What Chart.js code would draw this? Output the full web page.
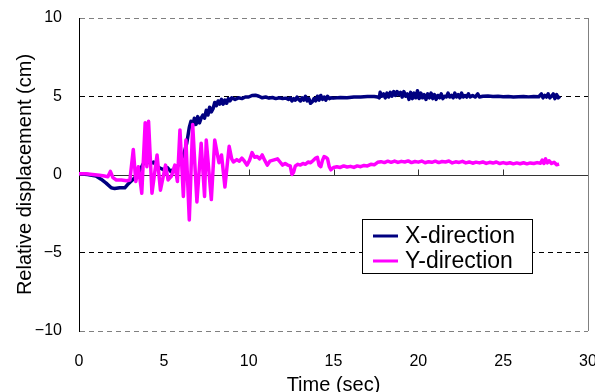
<!DOCTYPE html>
<html><head><meta charset="utf-8">
<script src="https://cdn.jsdelivr.net/npm/chart.js@4/dist/chart.umd.min.js"></script>
<style>html,body{margin:0;padding:0;background:#fff}canvas{display:block}</style>
</head><body>
<canvas id="c" width="595" height="392"></canvas>
<script>
// ---- data ----
const xTime = [0,0.5,1.0,1.3,1.6,1.9,2.1,2.4,2.7,2.9,3.1,3.3,3.5,3.7,3.9,4.0,4.2,4.4,4.6,4.8,5.0,5.2,5.4,5.6,5.8,
  6.0,6.2,6.35,6.5,6.6,6.7,6.8,6.9,7.0,7.1,7.2,7.3,7.4,7.5,7.6,7.7,7.8,7.9,8.0,8.1,8.2,8.3,8.4,8.5,8.6,8.7,8.8,8.9,9.0,9.2,9.4,9.6,9.8,
  10.0,10.2,10.4,10.6,10.8,11.0,11.2,11.4,11.6,11.8,12.0,12.2,12.35,
  12.45,12.55,12.65,12.75,12.85,12.95,13.05,13.15,13.25,13.35,13.45,13.55,13.65,13.75,13.85,13.95,14.05,14.15,14.25,14.35,14.45,14.55,14.65,14.75,14.85,
  15.0,15.4,15.8,16.2,16.6,17.0,17.4,17.6,
  17.7,17.75,17.85,17.95,18.05,18.15,18.25,18.35,18.45,18.55,18.65,18.75,18.85,18.95,19.05,19.15,19.25,19.35,19.45,19.55,19.65,19.75,19.85,19.95,20.05,20.15,20.25,20.35,20.45,20.55,20.65,20.75,20.85,20.95,21.05,21.15,21.25,21.35,21.45,21.55,21.65,21.75,21.85,21.95,22.05,22.15,22.25,22.35,22.45,22.55,22.65,22.75,22.85,22.95,23.05,23.2,23.35,23.5,23.6,
  23.8,24.1,24.4,24.7,25.0,25.3,25.6,25.9,26.2,26.5,26.8,27.1,27.25,27.35,27.45,27.55,27.65,27.75,27.85,27.95,28.05,28.15,28.25,28.35];
const xDisp = [0.05,0.0,-0.1,-0.3,-0.55,-0.85,-0.9,-0.85,-0.85,-0.6,-0.4,-0.2,0.1,0.5,0.9,1.0,0.7,0.8,0.5,0.4,0.3,0.45,0.2,0.35,0.5,
  0.9,1.4,2.0,3.0,3.4,3.1,3.6,3.2,3.7,3.3,3.6,3.8,3.6,4.1,3.8,4.3,4.0,4.2,4.6,4.4,4.7,4.5,4.8,4.5,4.75,4.55,4.85,4.7,4.9,4.8,4.9,4.85,4.95,
  4.95,5.05,5.07,5.0,4.9,4.95,4.88,4.92,4.85,4.9,4.85,4.88,4.8,
  4.9,4.7,4.85,4.75,4.95,4.8,4.7,4.9,4.75,5.0,4.7,4.85,4.55,4.65,4.85,4.7,5.0,4.75,5.05,4.8,4.95,4.75,5.0,4.85,4.9,
  4.88,4.92,4.9,4.95,4.95,4.98,4.98,4.95,
  4.9,5.25,5.0,5.15,4.9,5.2,4.95,5.25,5.0,5.3,5.05,5.3,5.1,5.25,4.95,5.3,5.0,5.15,4.8,5.25,4.85,5.2,4.9,5.35,4.85,5.2,4.9,5.1,4.8,5.15,4.9,5.2,4.85,5.1,4.8,5.05,4.9,5.15,4.85,5.0,4.95,5.2,4.95,5.05,4.9,5.2,4.95,5.1,4.9,5.2,4.95,5.05,4.95,5.15,4.95,5.05,4.95,5.15,4.95,
  5.0,5.02,4.98,5.0,4.97,4.98,4.95,4.97,4.98,4.96,4.98,4.97,5.15,4.9,5.05,4.95,5.15,4.9,5.0,5.15,4.85,5.1,4.9,5.0];

const yTime = [0,0.4,0.8,1.2,1.5,1.7,1.85,2.0,2.2,2.5,2.8,3.0,3.2,3.35,3.5,3.7,3.9,4.0,4.1,4.3,4.6,4.8,5.1,5.25,5.45,5.65,5.8,5.95,6.15,6.3,6.5,6.7,6.95,7.2,7.4,7.5,7.8,
  8.0,8.25,8.4,8.6,8.85,9.0,9.1,9.3,9.45,9.6,9.75,9.9,10.05,10.2,10.35,10.5,10.65,10.8,10.95,11.1,11.25,11.4,11.55,11.7,11.85,12.0,12.15,12.3,12.45,12.55,12.65,12.75,12.9,
  13.05,13.2,13.35,13.5,13.65,13.8,13.95,14.05,14.15,14.25,14.35,14.45,14.55,14.65,14.75,14.85,15.0,15.2,15.4,15.6,15.8,16.0,16.2,16.4,16.6,16.8,17.0,17.2,17.4,17.6,
  17.8,18.0,18.2,18.4,18.6,18.8,19.0,19.2,19.4,19.6,19.8,20.0,20.2,20.4,20.6,20.8,21.0,21.2,21.4,21.6,21.8,22.0,22.2,22.4,22.6,22.8,23.0,23.2,23.4,23.6,23.8,24.0,24.2,24.4,24.6,24.8,
  25.0,25.2,25.4,25.6,25.8,26.0,26.2,26.4,26.6,26.8,27.0,27.2,27.3,27.4,27.5,27.6,27.7,27.85,28.0,28.15,28.3];
const yDisp = [0.05,0.05,0.0,-0.05,-0.1,-0.15,0.2,-0.2,-0.35,-0.35,-0.4,-0.35,1.6,-0.45,0.5,-1.2,3.3,0.5,3.4,-1.2,1.25,-1.0,0.6,-0.35,-0.1,0.6,-0.45,2.85,-1.4,2.2,-2.9,3.2,-1.75,2.0,-1.4,2.2,-1.6,
  2.2,0.75,1.25,-0.8,1.8,1.0,0.8,0.95,0.85,1.05,0.85,0.6,0.9,1.4,1.1,1.15,1.0,1.25,0.9,0.6,0.85,0.9,0.95,1.0,0.8,0.6,0.7,0.6,0.55,0.0,0.15,0.55,0.65,
  0.6,0.7,0.65,0.8,0.75,0.9,1.05,1.1,0.6,0.5,0.9,1.15,1.1,1.0,0.5,0.3,0.45,0.5,0.45,0.55,0.48,0.52,0.45,0.55,0.5,0.58,0.55,0.65,0.62,0.78,
  0.82,0.76,0.85,0.78,0.86,0.77,0.84,0.8,0.87,0.76,0.83,0.79,0.86,0.75,0.82,0.78,0.85,0.76,0.83,0.8,0.86,0.74,0.81,0.77,0.84,0.74,0.8,0.72,0.79,0.74,0.8,0.71,0.78,0.73,0.8,0.7,
  0.76,0.7,0.75,0.68,0.74,0.69,0.75,0.68,0.74,0.7,0.76,0.72,0.92,0.7,1.0,0.74,0.88,0.7,0.78,0.62,0.66];

const xTicks = [0,5,10,15,20,25,30];
const yTicks = [-10,-5,0,5,10];
const seriesNames = ['X-direction','Y-direction'];
const seriesColors = ['#000080','#FF00FF'];

// ---- chart ----
const FONT = '"Liberation Sans", Arial, sans-serif';
const pts = (t, v) => t.map((x, i) => ({x, y: v[i]}));

const zeroLine = {
  id: 'zeroLine',
  beforeDatasetsDraw(chart) {
    const {ctx, chartArea: a, scales: {x, y}} = chart;
    const y0 = Math.round(y.getPixelForValue(0)) + 0.5;
    ctx.save();
    ctx.strokeStyle = '#333';
    ctx.lineWidth = 1;
    ctx.beginPath();
    ctx.moveTo(a.left, y0); ctx.lineTo(a.right, y0);
    xTicks.forEach(v => {
      if (v <= 0 || v >= 30) return;
      const px = Math.round(x.getPixelForValue(v)) + 0.5;
      ctx.moveTo(px, y0); ctx.lineTo(px, y0 - 6);
    });
    ctx.stroke();
    ctx.restore();
  }
};

const boxLegend = {
  id: 'boxLegend',
  afterDraw(chart) {
    const {ctx} = chart;
    const L = 362.5, T = 219.5, W = 170, H = 54;
    ctx.save();
    ctx.fillStyle = '#fff';
    ctx.fillRect(L, T, W, H);
    ctx.strokeStyle = '#000';
    ctx.lineWidth = 1;
    ctx.strokeRect(L, T, W, H);
    ctx.font = '23px ' + FONT;
    ctx.textBaseline = 'middle';
    ctx.textAlign = 'left';
    chart.data.datasets.forEach((ds, i) => {
      const cy = 236 + i * 25;
      ctx.strokeStyle = ds.borderColor;
      ctx.lineWidth = 3;
      ctx.beginPath();
      ctx.moveTo(373, cy); ctx.lineTo(398, cy);
      ctx.stroke();
      ctx.fillStyle = '#000';
      ctx.fillText(ds.label, 405, cy + 1);
    });
    ctx.restore();
  }
};

new Chart(document.getElementById('c'), {
  type: 'line',
  data: {
    datasets: [
      {label: seriesNames[0], data: pts(xTime, xDisp), borderColor: seriesColors[0], borderWidth: 3.5, order: 1},
      {label: seriesNames[1], data: pts(yTime, yDisp), borderColor: seriesColors[1], borderWidth: 3.5, order: 0}
    ]
  },
  options: {
    responsive: false,
    animation: false,
    events: [],
    layout: {padding: {top: 18, right: 7, left: 0, bottom: 0}},
    elements: {point: {radius: 0}, line: {tension: 0, fill: false, borderJoinStyle: 'round'}},
    plugins: {legend: {display: false}, tooltip: {enabled: false}},
    scales: {
      x: {
        type: 'linear', min: 0, max: 30,
        afterBuildTicks: s => { s.ticks = xTicks.map(v => ({value: v})); },
        afterFit: s => { s.height = 61; s.paddingLeft = 0; s.paddingRight = 0; },
        grid: {
          drawTicks: false,
          color: c => (c.tick && c.tick.value === 30) ? '#808080' : 'rgba(0,0,0,0)',
          lineWidth: 1
        },
        border: {display: false},
        ticks: {padding: 21, color: '#000', font: {family: FONT, size: 16}, maxRotation: 0, autoSkip: false},
        title: {display: true, text: 'Time (sec)', color: '#000', font: {family: FONT, size: 20, lineHeight: 1.0}, padding: {top: 0, bottom: -3}}
      },
      y: {
        type: 'linear', min: -10, max: 10,
        afterBuildTicks: s => { s.ticks = yTicks.map(v => ({value: v})); },
        afterFit: s => { s.width = 79; s.paddingTop = 0; s.paddingBottom = 0; },
        grid: {
          drawTicks: false,
          color: c => {
            const v = c.tick ? c.tick.value : null;
            if (v === 0) return 'rgba(0,0,0,0)';
            if (v === 10 || v === -10) return '#808080';
            return '#000';
          },
          lineWidth: 1
        },
        border: {display: true, color: '#000', width: 1, dash: [5, 4]},
        ticks: {padding: 17, color: '#000', font: {family: FONT, size: 16},
          callback: v => String(v).replace('-', '\u2212')},
        title: {display: true, text: 'Relative displacement (cm)', color: '#000', font: {family: FONT, size: 20, lineHeight: 1.2}, padding: {top: 13, bottom: 0}}
      }
    }
  },
  plugins: [zeroLine, boxLegend]
});
</script>
</body></html>
